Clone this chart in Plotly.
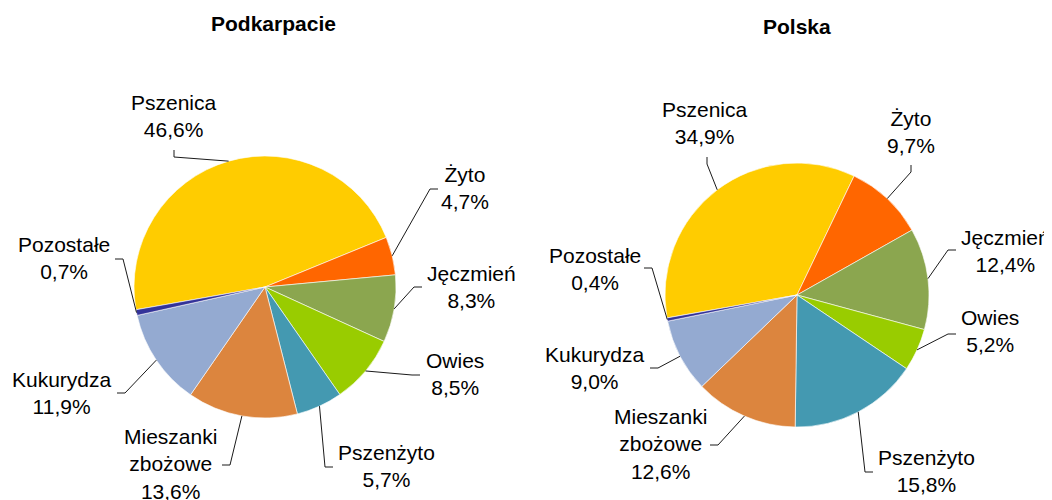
import math
import plotly.graph_objects as go

# ---------------- data ----------------
categories = ["Pszenica", "Żyto", "Jęczmień", "Owies", "Pszenżyto",
              "Mieszanki zbożowe", "Kukurydza", "Pozostałe"]
label_names = ["Pszenica", "Żyto", "Jęczmień", "Owies", "Pszenżyto",
               "Mieszanki<br>zbożowe", "Kukurydza", "Pozostałe"]
podkarpacie = [46.6, 4.7, 8.3, 8.5, 5.7, 13.6, 11.9, 0.7]
polska = [34.9, 9.7, 12.4, 5.2, 15.8, 12.6, 9.0, 0.4]
titles = ["Podkarpacie", "Polska"]

# ---------------- style / layout ----------------
VIEW_W, VIEW_H = 1052, 500
PAGE_MARGIN = 8  # default body margin of the html page
W, H = VIEW_W - PAGE_MARGIN, VIEW_H - PAGE_MARGIN
colors = ["#FFCC00", "#FF6600", "#8BA64F", "#99CC00", "#4499B1",
          "#DC853E", "#94AAD1", "#333399"]
FONT = "Liberation Sans, Arial, sans-serif"
FS = 21
START = 260  # first slice starts at this angle (clockwise from 12 o'clock)

# pie geometry in window pixels: centre x, centre y, radius
pies = [
    dict(vals=podkarpacie, cx=265, cy=287, r=131, title_xy=(273, 23)),
    dict(vals=polska, cx=797, cy=295, r=132, title_xy=(797, 26)),
]
# label block centres (window px) and leader-line end points near the label,
# with the side of the label relative to the stub ('L','R','T')
label_layout = [
    dict(centers=[(174, 116), (465, 188), (471, 287), (455, 374),
                  (386, 466), (170, 464), (62, 393), (64, 258)],
         ends=[(174, 150, 'T'), (438, 189, 'R'), (422, 287, 'R'), (420, 375, 'R'),
               (333, 467, 'R'), (222, 465, 'L'), (117, 393, 'L'), (115, 259, 'L')]),
    dict(centers=[(705, 123), (911, 132), (1005, 251), (990, 331),
                  (926, 471), (660, 444), (595, 368), (595, 269)],
         ends=[(707, 157, 'T'), (911, 165, 'T'), (956, 250, 'R'), (956, 334, 'R'),
               (873, 472, 'R'), (710, 445, 'L'), (650, 368, 'L'), (644, 268, 'L')]),
]


def px(x):
    return (x - PAGE_MARGIN) / W


def py(y):
    return 1 - (y - PAGE_MARGIN) / H


def fmt(v):
    return f"{v:.1f}".replace(".", ",") + "%"


fig = go.Figure()
annotations = []
shapes = []

for pie, lay, title in zip(pies, label_layout, titles):
    cx, cy, r = pie["cx"], pie["cy"], pie["r"]
    vals = pie["vals"]
    fig.add_trace(go.Pie(
        labels=categories, values=vals, sort=False, direction="clockwise",
        rotation=START - 360, textinfo="none", hoverinfo="label+percent",
        marker=dict(colors=colors, line=dict(color="white", width=0.6)),
        domain=dict(x=[px(cx - r), px(cx + r)], y=[py(cy + r), py(cy - r)]),
        showlegend=False,
    ))
    tx, ty = pie["title_xy"]
    annotations.append(dict(
        text=f"<b>{title}</b>", x=px(tx), y=py(ty), xref="paper", yref="paper",
        xanchor="center", yanchor="middle", showarrow=False,
        font=dict(family=FONT, size=FS, color="black")))

    total = sum(vals)
    cum = 0.0
    for i, v in enumerate(vals):
        mid = START + (cum + v / 2) / total * 360
        cum += v
        a = math.radians(mid)
        ex, ey = cx + r * math.sin(a), cy - r * math.cos(a)
        lx, ly = lay["centers"][i]
        sx, sy, side = lay["ends"][i]
        if side == "T":
            bx, by = sx, sy + 7
        elif side == "R":
            bx, by = sx - 8, sy
        else:
            bx, by = sx + 8, sy
        shapes.append(dict(
            type="path", xref="paper", yref="paper",
            path=f"M {px(ex)},{py(ey)} L {px(bx)},{py(by)} L {px(sx)},{py(sy)}",
            line=dict(color="#1a1a1a", width=1)))
        annotations.append(dict(
            text=f"{label_names[i]}<br>{fmt(v)}", x=px(lx), y=py(ly),
            xref="paper", yref="paper", xanchor="center", yanchor="middle",
            showarrow=False, align="center",
            font=dict(family=FONT, size=FS, color="black")))

fig.update_layout(
    width=W, height=H, margin=dict(l=0, r=0, t=0, b=0),
    paper_bgcolor="white", plot_bgcolor="white",
    annotations=annotations, shapes=shapes,
)

fig.write_html("out.html")
